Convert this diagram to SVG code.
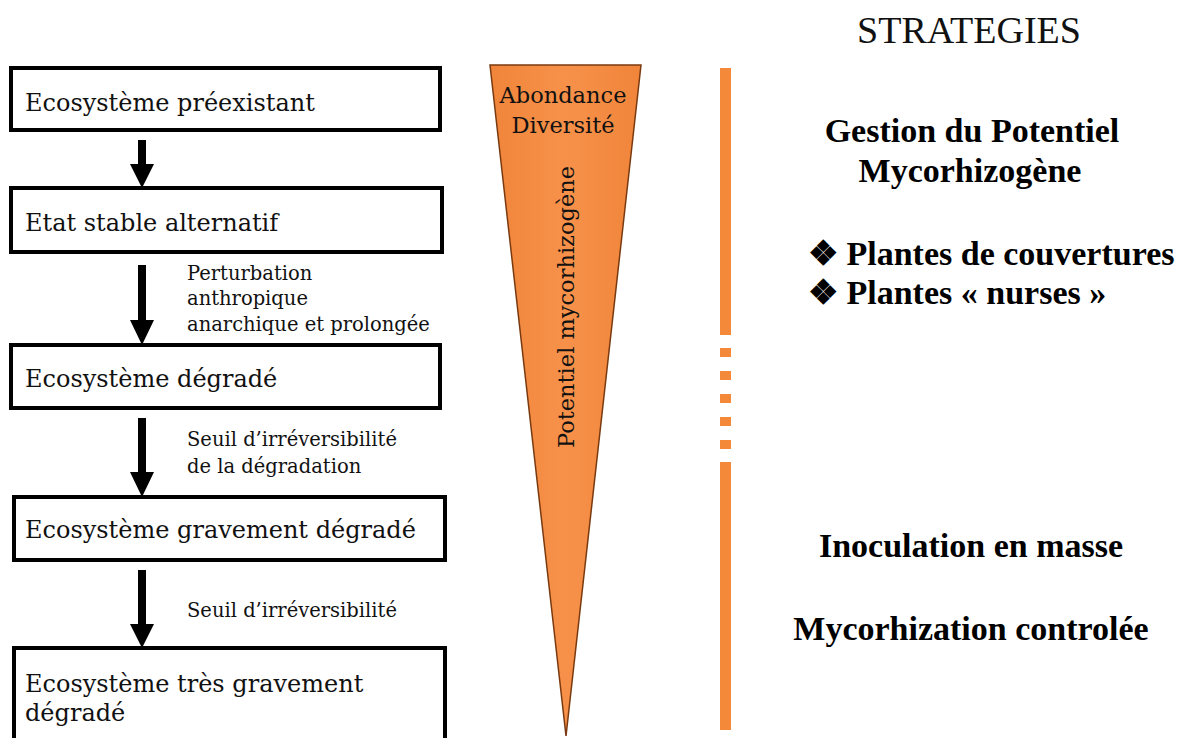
<svg xmlns="http://www.w3.org/2000/svg" width="1182" height="738" viewBox="0 0 1182 738">
<style>
.box{fill:#fff;stroke:#000;stroke-width:4}
.bt{font-family:"DejaVu Serif","Liberation Serif",serif;font-size:24px;fill:#111}
.lb{font-family:"DejaVu Serif","Liberation Serif",serif;font-size:19.5px;fill:#111}
.tt{font-family:"DejaVu Serif","Liberation Serif",serif;font-size:22.5px;fill:#111}
.st{font-family:"Liberation Serif",serif;font-weight:bold;font-size:34px;fill:#000}
.arr{fill:#000}
.og{fill:#F5893A}
</style>
<defs>
<linearGradient id="tg" gradientUnits="userSpaceOnUse" x1="490" y1="0" x2="641" y2="0">
<stop offset="0" stop-color="#F0853A"/>
<stop offset="0.5" stop-color="#F7914A"/>
<stop offset="1" stop-color="#F0853A"/>
</linearGradient>
</defs>
<g id="n1"><rect class="box" x="11" y="68" width="429" height="62"/><text class="bt" x="25" y="111">Ecosystème préexistant</text></g>
<g id="n2"><rect class="box" x="11" y="188" width="431" height="64"/><text class="bt" x="25" y="231">Etat stable alternatif</text></g>
<g id="n3"><rect class="box" x="11" y="345" width="429" height="63"/><text class="bt" x="25" y="387">Ecosystème dégradé</text></g>
<g id="n4"><rect class="box" x="14" y="497" width="431" height="63"/><text class="bt" x="25" y="538">Ecosystème gravement dégradé</text></g>
<g id="n5"><rect class="box" x="14" y="648" width="431" height="100"/><text class="bt" x="25" y="692">Ecosystème très gravement</text><text class="bt" x="25" y="721">dégradé</text></g>
<g id="connectors">
<polygon class="arr" points="138,140 146,140 146,164 154,164 142,188 130,164 138,164"/>
<polygon class="arr" points="138,265 146,265 146,320 154,320 142,345 130,320 138,320"/>
<polygon class="arr" points="138,418 146,418 146,472 154,472 142,497 130,472 138,472"/>
<polygon class="arr" points="138,570 146,570 146,624 154,624 142,648 130,624 138,624"/>
<text class="lb" x="187" y="280">Perturbation</text>
<text class="lb" x="187" y="305">anthropique</text>
<text class="lb" x="187" y="331">anarchique et prolongée</text>
<text class="lb" x="187" y="446">Seuil d’irréversibilité</text>
<text class="lb" x="187" y="473">de la dégradation</text>
<text class="lb" x="187" y="617">Seuil d’irréversibilité</text>
</g>
<g id="triangle">
<polygon points="490,65 641,65 566,736" fill="url(#tg)" stroke="#7a3a10" stroke-width="1.5"/>
<text class="tt" x="563" y="103" text-anchor="middle">Abondance</text>
<text class="tt" x="563" y="133" text-anchor="middle">Diversité</text>
<text class="tt" transform="translate(574,307) rotate(-90)" text-anchor="middle" font-size="24.5">Potentiel mycorhizogène</text>
</g>
<g id="bar">
<rect class="og" x="720" y="68" width="11" height="267"/>
<rect class="og" x="720" y="348" width="11" height="9"/>
<rect class="og" x="720" y="371" width="11" height="9"/>
<rect class="og" x="720" y="394" width="11" height="9"/>
<rect class="og" x="720" y="417" width="11" height="9"/>
<rect class="og" x="720" y="440" width="11" height="9"/>
<rect class="og" x="720" y="462" width="11" height="268"/>
</g>
<g id="strategies">
<text x="969" y="43" text-anchor="middle" font-family="Liberation Serif, serif" font-size="38" fill="#111">STRATEGIES</text>
<text class="st" x="972" y="142" text-anchor="middle">Gestion du Potentiel</text>
<text class="st" x="970" y="182" text-anchor="middle">Mycorhizogène</text>
<text class="st" x="808" y="265">❖ Plantes de couvertures</text>
<text class="st" x="808" y="304">❖ Plantes « nurses »</text>
<text class="st" x="971" y="557" text-anchor="middle">Inoculation en masse</text>
<text class="st" x="971" y="640" text-anchor="middle">Mycorhization controlée</text>
</g>
</svg>
